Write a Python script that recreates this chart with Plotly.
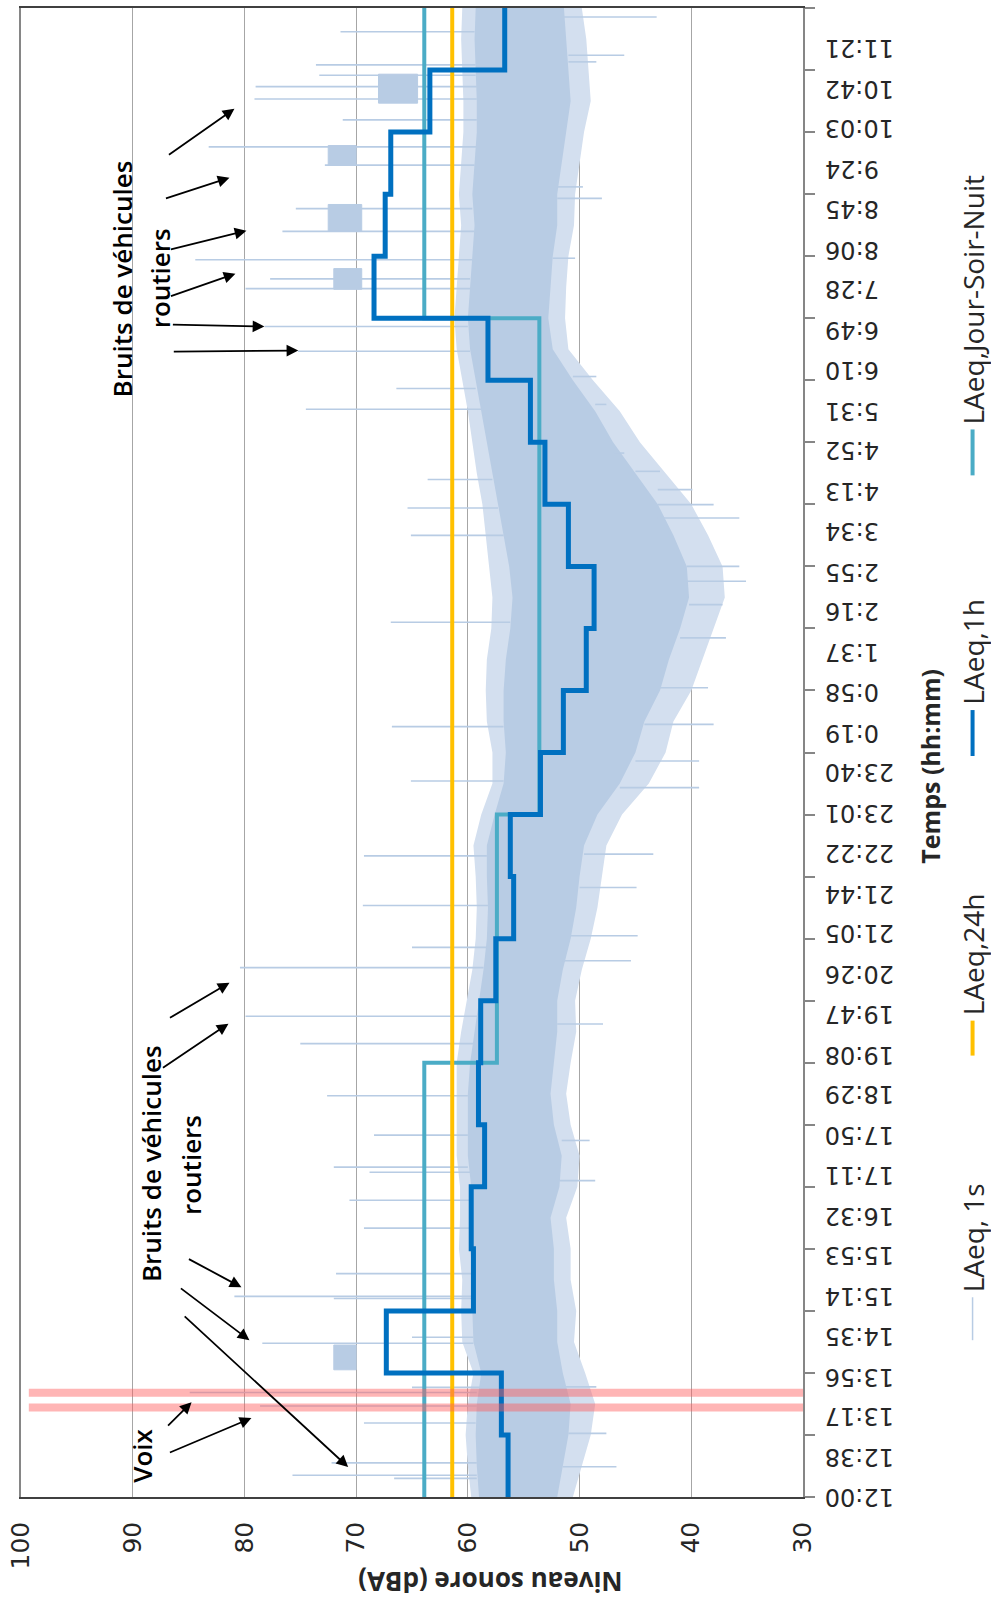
import plotly.graph_objects as go

# ---------------- DATA (time in minutes after 12:00) ----------------
hour_bounds = [60 * h for h in range(25)]
laeq_1h = [56.4, 57.0, 67.3, 59.5, 59.7, 58.5, 59.05, 58.85, 57.5, 55.9, 56.2, 53.5,
           51.45, 49.4, 48.7, 51.0, 53.1, 54.4, 58.2, 68.4, 67.4, 66.9, 63.4, 56.7]
laeq_24h = 61.4
jsn_bounds = [0, 420, 660, 1140, 1440]
jsn_values = [63.9, 57.4, 53.6, 63.9]

# LAeq,1s : envelope of most 1-s values (every 30 min)
band_t = list(range(0, 1441, 30))
band_hi = [59.7, 60.0, 60.2, 60.0, 59.5, 60.5, 60.6, 60.5, 60.8, 60.7, 60.7, 61.0, 61.0,
           61.0, 61.0, 60.6, 60.1, 59.6, 59.3, 59.2, 59.3, 59.5, 58.8, 57.8, 57.8, 58.3,
           58.4, 58.3, 57.9, 57.8, 58.1, 58.4, 58.7, 59.2, 59.6, 60.0, 60.5, 61.0, 61.2,
           61.0, 60.8, 60.6, 60.8, 60.6, 60.4, 60.4, 60.5, 60.6, 60.5]
band_lo = [50.6, 49.8, 49.0, 48.6, 49.5, 50.5, 50.3, 50.8, 50.8, 51.2, 50.2, 50.0, 50.8,
           51.2, 50.8, 50.3, 50.4, 49.8, 49.0, 48.4, 48.0, 47.6, 46.2, 43.8, 42.3, 41.6,
           40.0, 39.0, 38.0, 37.0, 37.2, 38.5, 40.0, 42.3, 44.6, 46.4, 48.8, 51.0, 51.3,
           51.2, 51.0, 50.5, 50.4, 50.0, 49.6, 49.0, 49.2, 49.4, 49.8]
# LAeq,1s : densest part (every 30 min)
core_hi = [59.0, 59.2, 59.3, 59.2, 58.8, 59.5, 59.6, 59.5, 59.8, 59.7, 59.7, 60.0, 60.0,
           60.0, 59.8, 59.4, 59.0, 58.6, 58.3, 58.2, 58.3, 58.3, 57.6, 56.8, 56.6, 56.8,
           56.8, 56.6, 56.2, 56.0, 56.3, 56.8, 57.3, 57.8, 58.3, 58.8, 59.3, 59.8, 60.0,
           59.8, 59.6, 59.4, 59.6, 59.4, 59.2, 59.2, 59.3, 59.4, 59.3]
core_lo = [52.0, 51.5, 51.0, 50.8, 51.5, 52.0, 52.0, 52.3, 52.3, 52.6, 51.8, 51.6, 52.3,
           52.6, 52.3, 52.0, 52.0, 51.5, 50.8, 50.3, 50.0, 49.6, 48.4, 46.4, 45.0, 44.2,
           42.8, 42.0, 41.0, 40.2, 40.4, 41.6, 43.0, 45.0, 47.0, 48.6, 50.6, 52.4, 52.8,
           52.6, 52.4, 52.0, 52.0, 51.6, 51.2, 50.8, 51.0, 51.2, 51.4]
# LAeq,1s : isolated loud peaks
peak_t = [18, 21, 33, 71.5, 88, 101, 106, 148.7, 154.5, 192, 194, 216, 260, 287, 314, 319,
          350, 388, 438.5, 465, 512, 531.5, 572, 620, 692.5, 745, 846, 930, 956.5, 984,
          1052, 1072, 1108, 1132, 1168.6, 1178, 1196.6, 1224, 1246, 1288, 1305.7, 1331.8,
          1352, 1364, 1375, 1385, 1417]
peak_db = [66.6, 75.7, 72.2, 69.3, 78.6, 84.9, 65.0, 78.4, 65.0, 72.0, 80.9, 71.8, 69.3,
           70.6, 68.8, 72.0, 68.4, 72.6, 75.0, 79.9, 80.4, 65.0, 69.4, 69.3, 65.1, 66.8,
           66.9, 65.1, 65.4, 63.6, 74.5, 66.4, 75.2, 78.2, 79.9, 77.7, 84.4, 76.6, 75.4,
           72.8, 83.2, 71.2, 79.1, 79.0, 73.3, 73.6, 71.4]
# LAeq,1s : quiet dips
dip_t = [29.3, 61.5, 106.5, 306, 344.8, 457.5, 518.6, 542.8, 589.4, 621.7, 686, 711.8,
         747.2, 782.6, 830.9, 863, 885.6, 900, 946.8, 959.7, 974.2, 991.9, 1009.6, 1056.6,
         1083.6, 1198, 1255.9, 1267, 1387.9, 1394.3, 1431.3]
dip_db = [46.7, 47.6, 48.5, 48.6, 49.1, 47.9, 45.4, 44.8, 44.9, 43.4, 39.3, 39.3, 38.0,
          38.5, 36.9, 37.2, 35.1, 35.7, 35.7, 38.0, 39.9, 42.8, 46.0, 47.6, 48.5, 50.4,
          48.0, 49.7, 48.5, 46.0, 43.1]
# LAeq,1s : episodes of sustained vehicle noise
ep_t0 = [123, 1168, 1224, 1288, 1348]
ep_t1 = [147, 1188, 1250, 1307, 1376]
ep_lo = [70.0, 69.5, 69.5, 70.0, 64.5]
ep_hi = [72.0, 72.0, 72.5, 72.5, 68.0]

voix_t = [86.6, 100.7]

time_labels = ["12:00", "12:38", "13:17", "13:56", "14:35", "15:14", "15:53", "16:32",
               "17:11", "17:50", "18:29", "19:08", "19:47", "20:26", "21:05", "21:44",
               "22:22", "23:01", "23:40", "0:19", "0:58", "1:37", "2:16", "2:55", "3:34",
               "4:13", "4:52", "5:31", "6:10", "6:49", "7:28", "8:06", "8:45", "9:24",
               "10:03", "10:42", "11:21"]
db_ticks = [100, 90, 80, 70, 60, 50, 40, 30]

# ---------------- LAYOUT HELPERS ----------------
W, H = 991, 1599
L, R, T, B = 19, 803, 6, 1497


def px(xp):
    return (xp - L) / (R - L)


def py(yp):
    return (B - yp) / (B - T)


C1S = "#b8cce4"
C1S_LIGHT = "#d3dfef"
C24 = "#ffc000"
C1H = "#0070c0"
CJSN = "#4bacc6"

fig = go.Figure()

# LAeq,1s envelope and core
fig.add_trace(go.Scatter(x=band_hi + band_lo[::-1], y=band_t + band_t[::-1],
                         fill="toself", fillcolor=C1S_LIGHT, line=dict(width=0),
                         mode="lines", hoverinfo="skip"))
fig.add_trace(go.Scatter(x=core_hi + core_lo[::-1], y=band_t + band_t[::-1],
                         fill="toself", fillcolor=C1S, line=dict(width=0),
                         mode="lines", hoverinfo="skip"))
# peaks and dips
sx, sy = [], []
for t, v in zip(peak_t, peak_db):
    i = int(round(t / 30))
    sx += [core_hi[i], v, None]
    sy += [t, t, None]
for t, v in zip(dip_t, dip_db):
    i = int(round(t / 30))
    sx += [core_lo[i], v, None]
    sy += [t, t, None]
fig.add_trace(go.Scatter(x=sx, y=sy, mode="lines", line=dict(color=C1S, width=1.6),
                         hoverinfo="skip"))
# episodes
ex, ey = [], []
for a, b, lo, hi in zip(ep_t0, ep_t1, ep_lo, ep_hi):
    ex += [lo, hi, hi, lo, lo, None]
    ey += [a, a, b, b, a, None]
fig.add_trace(go.Scatter(x=ex, y=ey, fill="toself", fillcolor=C1S, mode="lines",
                         line=dict(color=C1S, width=1), hoverinfo="skip"))

# LAeq,Jour-Soir-Nuit
jx, jy = [], []
for i, v in enumerate(jsn_values):
    jx += [v, v]
    jy += [jsn_bounds[i], jsn_bounds[i + 1]]
fig.add_trace(go.Scatter(x=jx, y=jy, mode="lines", line=dict(color=CJSN, width=4)))

# LAeq,24h
fig.add_trace(go.Scatter(x=[laeq_24h, laeq_24h], y=[0, 1440], mode="lines",
                         line=dict(color=C24, width=4)))

# LAeq,1h
hx, hy = [], []
for i, v in enumerate(laeq_1h):
    hx += [v, v]
    hy += [hour_bounds[i], hour_bounds[i + 1]]
fig.add_trace(go.Scatter(x=hx, y=hy, mode="lines", line=dict(color=C1H, width=5)))

# Voix highlight lines
for t in voix_t:
    fig.add_trace(go.Scatter(x=[99.3, 30], y=[t, t], mode="lines",
                             line=dict(color="rgba(255,90,90,0.45)", width=8)))

fig.update_traces(showlegend=False)

fig.update_layout(
    width=W, height=H,
    margin=dict(l=L, r=W - R, t=T, b=H - B, pad=0),
    paper_bgcolor="white", plot_bgcolor="white",
    font=dict(family="DejaVu Sans", color="#262626"),
    xaxis=dict(range=[100, 30], tickvals=db_ticks, tickangle=-90,
               tickfont=dict(family="DejaVu Sans", size=25, color="#262626"),
               showgrid=True, gridcolor="#a6a6a6", gridwidth=1,
               showline=True, linecolor="#404040", linewidth=1.5, mirror=True,
               ticks="", ticklabelstandoff=13, zeroline=False),
    yaxis=dict(range=[0, 1440], side="right", showgrid=False, zeroline=False,
               showline=True, linecolor="#868686", linewidth=1.5, mirror=True,
               tickvals=hour_bounds, ticks="outside", ticklen=10, tickwidth=1.5,
               tickcolor="#868686", showticklabels=False),
)

# time tick labels (upside down)
n = len(time_labels)
for k, lab in enumerate(time_labels):
    fig.add_annotation(x=px(823), xref="paper", y=k * 1440 / n, yref="y", text=lab,
                       textangle=180, xanchor="left", yanchor="middle", showarrow=False,
                       font=dict(family="DejaVu Sans", size=24, color="#262626"))

# axis titles
fig.add_annotation(x=px(490), y=py(1582), xref="paper", yref="paper",
                   text="<b>Niveau sonore (dBA)</b>", textangle=180, showarrow=False,
                   xanchor="center", yanchor="middle",
                   font=dict(family="Open Sans", size=26, color="#262626"))
fig.add_annotation(x=px(930), y=py(765), xref="paper", yref="paper",
                   text="<b>Temps (hh:mm)</b>", textangle=-90, showarrow=False,
                   xanchor="center", yanchor="middle",
                   font=dict(family="Open Sans", size=25, color="#262626"))

# legend
leg = [("LAeq, 1s", C1S, 1.5, 1297, 1340),
       ("LAeq,24h", C24, 4, 1020, 1055),
       ("LAeq,1h", C1H, 4, 709, 755),
       ("LAeq,Jour-Soir-Nuit", CJSN, 4, 428, 474)]
for name, col, w, y0, y1 in leg:
    fig.add_shape(type="line", xref="paper", yref="paper", x0=px(973), x1=px(973),
                  y0=py(y0), y1=py(y1), line=dict(color=col, width=w))
    fig.add_annotation(x=px(973), y=py(y0 - 3), xref="paper", yref="paper", text=name,
                       textangle=-90, xanchor="center", yanchor="bottom", showarrow=False,
                       font=dict(family="Open Sans", size=28, color="#262626"))

# text notes
notes = [("Bruits de véhicules", 120, 277), ("routiers", 158, 277),
         ("Bruits de véhicules", 150, 1163), ("routiers", 190, 1165),
         ("Voix", 140, 1456)]
for txt, xx, yy in notes:
    fig.add_annotation(x=px(xx), y=py(yy), xref="paper", yref="paper", text=txt,
                       textangle=-90, showarrow=False, xanchor="center", yanchor="middle",
                       font=dict(family="Open Sans", size=26, color="black", weight=600))

# arrows (tail -> head)
arrows = [((166, 154), (233, 107)), ((163, 197), (228, 176)), ((168, 248), (245, 229)),
          ((168, 295), (234, 272)), ((170, 323), (263, 325)), ((171, 350), (297, 349)),
          ((167, 1018), (228, 982)), ((160, 1068), (227, 1023)), ((186, 1258), (240, 1287)),
          ((178, 1287), (248, 1340)), ((182, 1315), (347, 1467)),
          ((165, 1427), (190, 1402)), ((167, 1453), (250, 1418))]
for (tx, ty), (hx_, hy_) in arrows:
    fig.add_annotation(x=px(hx_), y=py(hy_), xref="paper", yref="paper", text="",
                       showarrow=True, ax=tx - hx_, ay=ty - hy_, axref="pixel", ayref="pixel",
                       arrowhead=2, arrowsize=1.3, arrowwidth=1.8, arrowcolor="black",
                       standoff=0)

fig.write_html("out.html")
